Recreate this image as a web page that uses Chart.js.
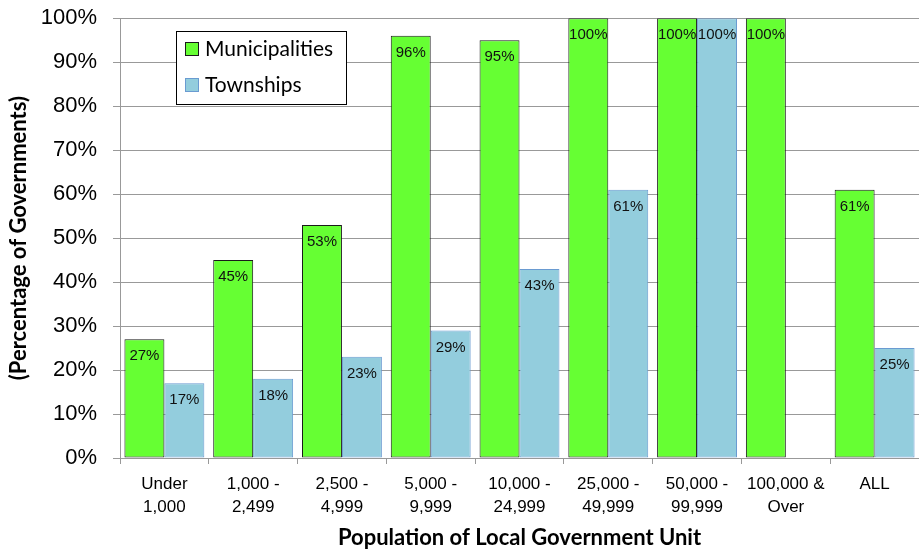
<!DOCTYPE html>
<html>
<head>
<meta charset="utf-8">
<script src="https://cdn.jsdelivr.net/npm/chart.js@4.4.1/dist/chart.umd.min.js"></script>
<style>
  html, body { margin: 0; padding: 0; background: #fff; }
  #wrap { width: 919px; height: 550px; }
</style>
</head>
<body>
<div id="wrap"><canvas id="myChart" width="919" height="550"></canvas></div>
<script>
// population bands (two-line tick labels)
var categories = [
    ["Under", "1,000"], ["1,000 -", "2,499"], ["2,500 -", "4,999"],
    ["5,000 -", "9,999"], ["10,000 -", "24,999"], ["25,000 -", "49,999"],
    ["50,000 -", "99,999"], ["100,000 &", "Over"], ["ALL"]
];
var municipalities = [27, 45, 53, 96, 95, 100, 100, 100, 61];
var townships = [17, 18, 23, 29, 43, 61, 100, null, 25];
var yTicks = [0, 10, 20, 30, 40, 50, 60, 70, 80, 90, 100];

var GRID = '#999999';

// percent labels just inside the top of each bar
var barLabels = {
    id: 'barLabels',
    afterDatasetsDraw(chart) {
        var ctx = chart.ctx;
        ctx.save();
        ctx.font = '15px "Liberation Sans", Arial, sans-serif';
        ctx.fillStyle = '#111';
        ctx.textAlign = 'center';
        ctx.textBaseline = 'middle';
        chart.data.datasets.forEach((ds, i) => {
            chart.getDatasetMeta(i).data.forEach((bar, j) => {
                var v = ds.data[j];
                if (v == null) return;
                ctx.fillText(v + '%', bar.x, bar.y + 17);
            });
        });
        ctx.restore();
    }
};

// boxed legend floating inside the plot
var boxLegend = {
    id: 'boxLegend',
    afterDraw(chart, args, opts) {
        var ctx = chart.ctx;
        var x = chart.chartArea.left + opts.dx, y = opts.top;
        ctx.save();
        ctx.fillStyle = '#fff';
        ctx.fillRect(x, y, opts.w, opts.h);
        ctx.strokeStyle = '#000';
        ctx.lineWidth = 1;
        ctx.strokeRect(x + 0.5, y + 0.5, opts.w, opts.h);
        ctx.font = '21px Lato, "Open Sans", sans-serif';
        ctx.textBaseline = 'middle';
        ctx.textAlign = 'left';
        chart.data.datasets.forEach((ds, i) => {
            var cy = y + 18 + i * 36;
            ctx.fillStyle = ds.backgroundColor;
            ctx.fillRect(x + 9, cy - 7, 14, 14);
            ctx.strokeStyle = ds.borderColor;
            ctx.strokeRect(x + 9.5, cy - 6.5, 13, 13);
            ctx.fillStyle = '#000';
            ctx.fillText(ds.label, x + 29, cy);
        });
        ctx.restore();
    }
};

var ctx = document.getElementById("myChart");
var chart = new Chart(ctx, {
    type: 'bar',
    data: {
        labels: categories,
        datasets: [{
            label: "Municipalities",
            data: municipalities,
            backgroundColor: "#66ff33",
            borderColor: "#1a1a1a",
            borderWidth: 1,
            borderSkipped: false,
            categoryPercentage: 0.9,
            barPercentage: 1.0
        }, {
            label: "Townships",
            data: townships,
            backgroundColor: "#93cddd",
            borderColor: "#6a9bd1",
            borderWidth: 1,
            borderSkipped: false,
            categoryPercentage: 0.9,
            barPercentage: 1.0
        }]
    },
    options: {
        responsive: false,
        animation: false,
        layout: { padding: { top: 0, right: 0, bottom: -1, left: 6 } },
        plugins: {
            legend: { display: false },
            tooltip: { enabled: false },
            boxLegend: { dx: 56, top: 31, w: 170, h: 73 }
        },
        scales: {
            x: {
                grid: { display: true, drawOnChartArea: false, drawTicks: true, tickLength: 6, color: GRID },
                border: { color: GRID },
                ticks: {
                    color: '#000',
                    font: { family: '"Liberation Sans", Arial, sans-serif', size: 17, lineHeight: 1.4 },
                    padding: 8,
                    maxRotation: 0,
                    autoSkip: false
                },
                title: {
                    display: true,
                    text: 'Population of Local Government Unit',
                    color: '#000',
                    font: { family: 'Lato, "Open Sans", sans-serif', size: 22, weight: 'bold' },
                    padding: { top: -3, bottom: 0 }
                }
            },
            y: {
                min: 0,
                max: 100,
                afterBuildTicks: axis => { axis.ticks = yTicks.map(v => ({ value: v })); },
                afterFit: axis => { axis.width = 114; },
                grid: { color: GRID, tickLength: 7 },
                border: { color: GRID },
                ticks: {
                    color: '#000',
                    font: { family: '"Liberation Sans", Arial, sans-serif', size: 22, lineHeight: 0.2 },
                    padding: 16,
                    callback: v => v + '%'
                },
                title: {
                    display: true,
                    text: '(Percentage of Governments)',
                    color: '#000',
                    font: { family: 'Lato, "Open Sans", sans-serif', size: 22, weight: 'bold' },
                    padding: { top: 0, bottom: 0 }
                }
            }
        }
    },
    plugins: [barLabels, boxLegend]
});
</script>
</body>
</html>
